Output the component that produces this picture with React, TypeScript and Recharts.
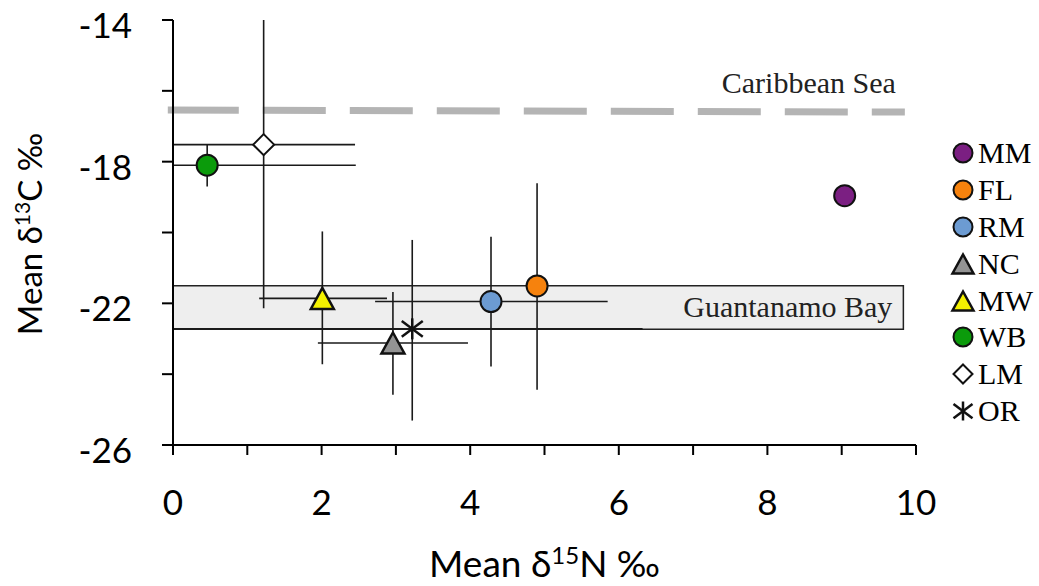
import {
  ScatterChart,
  Scatter,
  XAxis,
  YAxis,
  ErrorBar,
  ReferenceArea,
  ReferenceLine,
  Legend,
} from 'recharts'

type Kind = 'circle' | 'triangle' | 'diamond' | 'asterisk'
type Spread = [number, number] | null

// sites, in legend order
const sites = ['MM', 'FL', 'RM', 'NC', 'MW', 'WB', 'LM', 'OR']
const meanN = [9.04, 4.9, 4.28, 2.96, 2.01, 0.46, 1.22, 3.22]
const meanC = [-18.96, -21.51, -21.95, -23.12, -21.86, -18.1, -17.52, -22.72]
// error spreads as [below, above] of the mean
const errN: Spread[] = [null, null, [1.56, 1.57], [1.01, 1.01], [0.85, 0.87], [0.46, 2.0], [1.22, 1.23], [3.22, 3.1]]
const errC: Spread[] = [null, [2.93, 2.9], [1.83, 1.83], [1.46, 1.44], [1.86, 1.89], [0.6, 0.6], [4.62, 3.52], [2.59, 2.51]]
const fills = ['#7B1F82', '#F6820D', '#6C9BD2', '#939393', '#F4F100', '#0B9B0B', '#FFFFFF', '#000000']
const kinds: Kind[] = ['circle', 'circle', 'circle', 'triangle', 'triangle', 'circle', 'diamond', 'asterisk']

const xTicks = [0, 1, 2, 3, 4, 5, 6, 7, 8, 9, 10]
const xLabels = [0, 2, 4, 6, 8, 10]
const yTicks = [-26, -24, -22, -20, -18, -16, -14]
const yLabels = [-26, -22, -18, -14]

// baselines
const caribbeanLine = [
  { x: -0.07, y: -16.54 },
  { x: 9.85, y: -16.6 },
]
const guantanamoBand = { x1: 0, x2: 9.83, y1: -22.73, y2: -21.5 }

const SANS = 'Lato, "Open Sans", sans-serif'
const SERIF = '"Liberation Serif", "Times New Roman", serif'
const INK = '#000'
const DASH = '71 24 ' + '63 24 '.repeat(8)

function Marker({ cx, cy, kind, fill, r = 11.5 }: { cx: number; cy: number; kind: Kind; fill: string; r?: number }) {
  if (kind === 'circle') {
    return <circle cx={cx} cy={cy} r={r - 1} fill={fill} stroke="#111" strokeWidth={2} />
  }
  if (kind === 'triangle') {
    const pts = `${cx},${cy - r + 1} ${cx - r},${cy + r - 1} ${cx + r},${cy + r - 1}`
    return <polygon points={pts} fill={fill} stroke="#111" strokeWidth={2.5} strokeLinejoin="miter" />
  }
  if (kind === 'diamond') {
    const h = r - 1
    const pts = `${cx},${cy - h} ${cx + h},${cy} ${cx},${cy + h} ${cx - h},${cy}`
    return <polygon points={pts} fill={fill} stroke="#111" strokeWidth={2} />
  }
  const a = r - 1
  const b = a * 0.75
  return (
    <g stroke="#111" strokeWidth={2.5}>
      <line x1={cx} y1={cy - a} x2={cx} y2={cy + a} />
      <line x1={cx - a} y1={cy - b} x2={cx + a} y2={cy + b} />
      <line x1={cx - a} y1={cy + b} x2={cx + a} y2={cy - b} />
    </g>
  )
}

const XTick = ({ x, y, payload }: any) =>
  xLabels.includes(payload.value) ? (
    <text x={x} y={y + 60} textAnchor="middle" fontFamily={SANS} fontSize={35} fill={INK}>
      {payload.value}
    </text>
  ) : (
    <g />
  )

const YTick = ({ x, y, payload }: any) =>
  yLabels.includes(payload.value) ? (
    <text x={x - 30} y={y + 18} textAnchor="end" fontFamily={SANS} fontSize={35} fill={INK}>
      {payload.value}
    </text>
  ) : (
    <g />
  )

const XTitle = ({ viewBox }: any) => (
  <text x={viewBox.x + viewBox.width / 2} y={577} textAnchor="middle" fontFamily={SANS} fontSize={37} fill={INK}>
    Mean δ<tspan dy={-13} fontSize={24}>15</tspan>
    <tspan dy={13}>N ‰</tspan>
  </text>
)

const YTitle = () => (
  <text x={42} y={234} transform="rotate(-90, 42, 234)" textAnchor="middle" fontFamily={SANS} fontSize={33} fill={INK}>
    Mean δ<tspan dy={-12} fontSize={21}>13</tspan>
    <tspan dy={12}>C ‰</tspan>
  </text>
)

const SiteLegend = () => (
  <div style={{ fontFamily: SERIF, fontSize: 30, color: INK }}>
    {sites.map((s, i) => (
      <div key={s} style={{ height: 36.9, display: 'flex', alignItems: 'center' }}>
        <svg width={26} height={26} style={{ overflow: 'visible' }}>
          <Marker cx={13} cy={13} kind={kinds[i]} fill={fills[i]} r={10.5} />
        </svg>
        <span style={{ marginLeft: 2, lineHeight: 1 }}>{s}</span>
      </div>
    ))}
  </div>
)

export default function App() {
  return (
    <div style={{ position: 'absolute', left: 0, top: 0, background: '#fff' }}>
      <ScatterChart width={1039} height={586} margin={{ top: 20, right: 123, bottom: 0, left: 0 }}>
        <XAxis
          type="number"
          dataKey="n"
          domain={[0, 10]}
          ticks={xTicks}
          height={141}
          tickSize={10}
          tickMargin={0}
          axisLine={{ stroke: INK, strokeWidth: 2 }}
          tickLine={{ stroke: INK, strokeWidth: 2 }}
          tick={<XTick />}
          label={(p: any) => <XTitle {...p} />}
        />
        <YAxis
          type="number"
          dataKey="c"
          domain={[-26, -14]}
          ticks={yTicks}
          width={173}
          tickSize={11}
          tickMargin={0}
          axisLine={{ stroke: INK, strokeWidth: 2 }}
          tickLine={{ stroke: INK, strokeWidth: 2 }}
          tick={<YTick />}
          label={() => <YTitle />}
        />

        {/* Guantanamo Bay band */}
        <ReferenceArea
          {...guantanamoBand}
          fill="#EEEEEE"
          fillOpacity={1}
          stroke="#222"
          strokeWidth={1.5}
          label={(p: any) => {
            const vb = p.viewBox
            return (
              <text x={vb.x + vb.width - 11} y={vb.y + vb.height / 2 + 10} textAnchor="end" fontFamily={SERIF} fontSize={30} fill="#222">
                Guantanamo Bay
              </text>
            )
          }}
        />

        {/* Caribbean Sea baseline */}
        <ReferenceLine
          segment={caribbeanLine}
          ifOverflow="visible"
          stroke="#B4B4B4"
          strokeWidth={7}
          strokeDasharray={DASH}
          label={(p: any) => {
            const vb = p.viewBox ?? { x: 168, y: 110, width: 732 }
            return (
              <text x={vb.x + vb.width - 9} y={vb.y - 17} textAnchor="end" fontFamily={SERIF} fontSize={30} fill="#222">
                Caribbean Sea
              </text>
            )
          }}
        />

        {sites.map((s, i) => (
          <Scatter
            key={s}
            name={s}
            data={[{ n: meanN[i], c: meanC[i], en: errN[i], ec: errC[i] }]}
            fill={fills[i]}
            isAnimationActive={false}
            shape={(p: any) => <Marker cx={p.cx} cy={p.cy} kind={kinds[i]} fill={fills[i]} />}
          >
            {errN[i] && (
              <ErrorBar dataKey="en" direction="x" width={0} stroke="#1a1a1a" strokeWidth={1.6} isAnimationActive={false} />
            )}
            {errC[i] && (
              <ErrorBar dataKey="ec" direction="y" width={0} stroke="#1a1a1a" strokeWidth={1.6} isAnimationActive={false} />
            )}
          </Scatter>
        ))}

        <Legend
          layout="vertical"
          align="center"
          verticalAlign="middle"
          content={() => <SiteLegend />}
          wrapperStyle={{ left: 950, top: 134.5, width: 89 }}
        />
      </ScatterChart>
    </div>
  )
}
